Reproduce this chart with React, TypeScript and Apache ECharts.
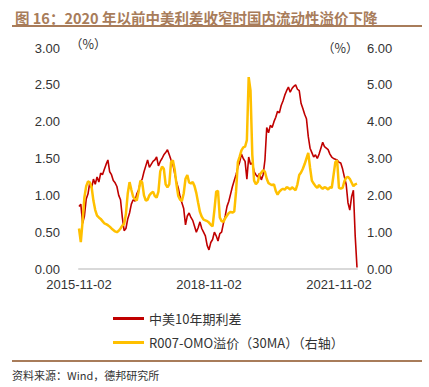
import React, { useEffect, useRef } from "react";
import * as echarts from "echarts";

const titleText = "图 16：2020 年以前中美利差收窄时国内流动性溢价下降";
const sourceText = "资料来源：Wind，德邦研究所";
const seriesNames = ["中美10年期利差", "R007-OMO溢价（30MA）（右轴）"];
const xTickLabels = ["2015-11-02", "2018-11-02", "2021-11-02"];

// semi-monthly categories from 2015-11-02 to 2022-04-02
const categories: string[] = [];
for (let y = 2015, m = 11, k = 0; k < 155; k++) {
  const day = k % 2 === 0 ? "02" : "17";
  categories.push(`${y}-${String(m).padStart(2, "0")}-${day}`);
  if (k % 2 === 1) {
    m++;
    if (m > 12) { m = 1; y++; }
  }
}

const spreadCnUs = [
  0.85, 0.88, 0.62, 0.72, 0.95, 1.02, 1.18, 1.1, 1.22, 1.15,
  1.25, 1.18, 1.3, 1.28, 1.35, 1.42, 1.48, 1.32, 1.28, 1.2,
  1.17, 1.12, 1.0, 0.94, 0.7, 0.52, 0.55, 0.68, 0.76, 0.88,
  0.94, 0.92, 1.02, 1.07, 1.18, 1.22, 1.32, 1.4, 1.48, 1.38,
  1.42, 1.46, 1.48, 1.52, 1.4, 1.46, 1.5, 1.55, 1.58, 1.62,
  1.55, 1.48, 1.42, 1.3, 1.18, 1.1, 0.98, 0.9, 0.82, 0.6,
  0.72, 0.76, 0.7, 0.66, 0.58, 0.5, 0.56, 0.64, 0.55, 0.5,
  0.45, 0.32, 0.26, 0.36, 0.4, 0.5, 0.45, 0.38, 0.48, 0.5,
  0.62, 0.72, 0.85, 0.92, 1.02, 1.12, 1.2, 1.28, 1.38, 1.45,
  1.56, 1.5, 1.46, 1.22, 1.52, 1.42, 1.44, 1.32, 1.28, 1.25,
  1.3, 1.21, 1.28, 1.48, 1.92, 1.85, 1.95, 1.92, 2.0, 2.06,
  2.14, 2.12, 2.22, 2.28, 2.36, 2.42, 2.47, 2.4, 2.45, 2.48,
  2.5, 2.44, 2.42, 2.25, 2.18, 2.1, 2.04, 1.8, 1.64, 1.58,
  1.52, 1.55, 1.5, 1.56, 1.64, 1.72, 1.66, 1.64, 1.62, 1.56,
  1.52, 1.5, 1.49, 1.48, 1.45, 1.44, 1.36, 1.25, 1.15, 0.9,
  0.8, 0.98, 1.07, 0.45, 0.02,
];

const r007Premium = [
  1.1, 0.73, 1.3, 1.95, 2.25, 2.38, 2.35, 2.22, 1.85, 1.6,
  1.45, 1.4, 1.36, 1.3, 1.24, 1.22, 1.19, 1.15, 1.1, 1.06,
  1.02, 1.0, 1.04, 1.1, 1.18, 1.22, 1.5, 2.05, 2.36, 2.15,
  1.96, 1.9, 1.86, 2.1, 2.4, 2.35, 2.0, 1.86, 1.88, 2.0,
  2.06, 2.1, 1.98, 1.94, 2.1, 2.65, 2.78, 2.72, 2.3, 2.22,
  2.3, 2.9, 2.95, 2.7, 2.3, 1.98, 1.88, 1.85, 2.05, 2.45,
  2.55, 2.35, 2.32, 2.36, 2.25, 2.06, 1.8, 1.55, 1.42, 1.34,
  1.32, 1.3, 1.26, 1.2, 1.16, 1.6, 2.1, 2.12, 1.4, 1.3,
  1.28, 1.38, 1.45, 1.52, 1.55, 1.53, 1.56, 2.1, 2.9, 3.05,
  3.22, 3.3, 3.32, 3.5, 5.21, 4.85, 3.1, 2.4, 2.3, 2.36,
  2.55, 2.62, 2.68, 2.64, 2.45, 2.33, 2.3, 2.28, 2.3, 2.12,
  2.02, 2.1, 2.15, 2.18, 2.15, 2.22, 2.2, 2.16, 2.22, 2.18,
  2.14, 2.3, 2.55, 2.62, 2.72, 2.85, 3.0, 3.15, 2.75, 2.4,
  2.32, 2.25, 2.2, 2.28, 2.22, 2.18, 2.22, 2.2, 2.16, 2.22,
  2.2, 2.55, 2.9, 2.95, 2.2, 2.18, 2.2, 2.38, 2.48, 2.5,
  2.45, 2.35, 2.25, 2.3, 2.32,
];

const BROWN = "#a87c5a";
const RED = "#c00000";
const YELLOW = "#ffc000";
const NUM_FONT = "Liberation Sans, Arial, sans-serif";
const CJK_FONT = "Noto Sans CJK SC, sans-serif";

export default function App() {
  const ref = useRef<HTMLDivElement>(null);
  useEffect(() => {
    if (!ref.current) return;
    const chart = echarts.init(ref.current, null, { renderer: "svg" });
    chart.setOption({
      animation: false,
      backgroundColor: "#ffffff",
      title: {
        text: titleText,
        left: 10,
        top: 5,
        textStyle: { color: BROWN, fontSize: 14.5, fontWeight: "bold", fontFamily: CJK_FONT },
      },
      graphic: [
        { type: "line", shape: { x1: 12, y1: 26, x2: 422, y2: 26 }, style: { stroke: BROWN, lineWidth: 2 } },
        { type: "line", shape: { x1: 12, y1: 361, x2: 422, y2: 361 }, style: { stroke: BROWN, lineWidth: 2 } },
        { type: "text", left: 12, top: 369, style: { text: sourceText, fill: "#333", fontSize: 11, fontFamily: CJK_FONT } },
        { type: "text", left: 70, top: 37, style: { text: "（%）", fill: "#333", fontSize: 12.5, fontFamily: CJK_FONT } },
        { type: "text", left: 322, top: 41, style: { text: "（%）", fill: "#333", fontSize: 12.5, fontFamily: CJK_FONT } },
      ],
      legend: {
        orient: "vertical",
        left: 108,
        top: 307,
        itemGap: 11,
        itemWidth: 31,
        itemHeight: 3,
        icon: "rect",
        textStyle: { color: "#333", fontSize: 13, fontFamily: CJK_FONT, padding: [0, 0, 0, 0] },
        data: seriesNames,
      },
      grid: { left: 79, right: 72, top: 48, bottom: 118, containLabel: false },
      xAxis: {
        type: "category",
        data: categories,
        boundaryGap: false,
        axisLine: { show: true, lineStyle: { color: "#d9d9d9", width: 2 } },
        axisTick: { show: false },
        axisLabel: {
          interval: (idx: number, val: string) => xTickLabels.includes(val),
          color: "#333",
          fontSize: 13,
          fontFamily: NUM_FONT,
          margin: 9,
        },
        splitLine: { show: false },
      },
      yAxis: [
        {
          type: "value",
          min: 0,
          max: 3,
          interval: 0.5,
          axisLine: { show: false },
          axisTick: { show: false },
          splitLine: { show: false },
          axisLabel: { formatter: (v: number) => v.toFixed(2), color: "#333", fontSize: 13, fontFamily: NUM_FONT, margin: 19 },
        },
        {
          type: "value",
          min: 0,
          max: 6,
          interval: 1,
          position: "right",
          axisLine: { show: false },
          axisTick: { show: false },
          splitLine: { show: false },
          axisLabel: { formatter: (v: number) => v.toFixed(2), color: "#333", fontSize: 13, fontFamily: NUM_FONT, margin: 10 },
        },
      ],
      series: [
        {
          name: seriesNames[0],
          type: "line",
          data: spreadCnUs,
          yAxisIndex: 0,
          symbol: "none",
          lineStyle: { color: RED, width: 1.6 },
          itemStyle: { color: RED },
          z: 2,
        },
        {
          name: seriesNames[1],
          type: "line",
          data: r007Premium,
          yAxisIndex: 1,
          symbol: "none",
          lineStyle: { color: YELLOW, width: 2.5 },
          itemStyle: { color: YELLOW },
          z: 3,
        },
      ],
    });
    return () => chart.dispose();
  }, []);
  return <div ref={ref} style={{ position: "absolute", left: 0, top: 0, width: 429, height: 387 }} />;
}
